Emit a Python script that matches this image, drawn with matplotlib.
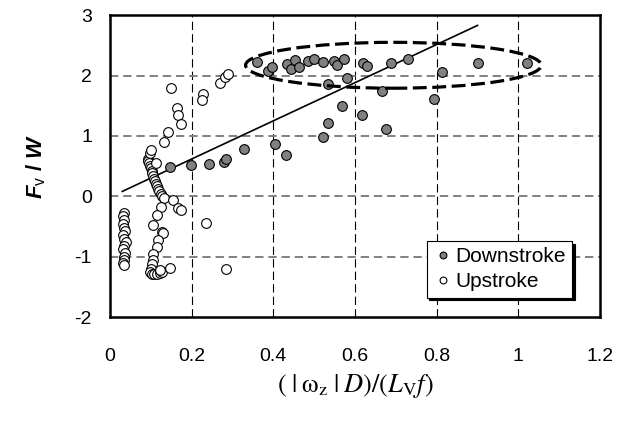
import numpy as np
import matplotlib
matplotlib.use('Agg')
import matplotlib.pyplot as plt
from matplotlib.patches import Ellipse

plt.rcParams['font.family'] = ['Liberation Sans', 'DejaVu Sans']
plt.rcParams['lines.scale_dashes'] = False
plt.rcParams['axes.unicode_minus'] = False
plt.rcParams['mathtext.fontset'] = 'custom'
plt.rcParams['mathtext.it'] = 'Liberation Sans:bold:italic'
plt.rcParams['mathtext.rm'] = 'Liberation Sans'

# downstroke points (filled grey)
down_x = [0.147, 0.198, 0.242, 0.279, 0.284, 0.329, 0.404, 0.431, 0.521, 0.535,
          0.567, 0.580, 0.534, 0.359, 0.388, 0.396, 0.434, 0.443, 0.453, 0.463,
          0.484, 0.500, 0.521, 0.549, 0.555, 0.574, 0.620, 0.629, 0.687, 0.731,
          0.665, 0.618, 0.675, 0.814, 0.794, 0.900, 1.022]
down_y = [0.49, 0.51, 0.54, 0.56, 0.62, 0.78, 0.86, 0.69, 0.98, 1.22,
          1.49, 1.96, 1.86, 2.23, 2.08, 2.14, 2.19, 2.10, 2.25, 2.14,
          2.24, 2.27, 2.23, 2.24, 2.18, 2.27, 2.20, 2.16, 2.20, 2.27,
          1.74, 1.34, 1.11, 2.06, 1.61, 2.20, 2.20]

# upstroke points (open)
up_x = [0.034, 0.033, 0.035, 0.032, 0.034, 0.036, 0.033, 0.035, 0.038, 0.034,
        0.033, 0.036, 0.034, 0.035, 0.033, 0.034,
        0.092, 0.093, 0.095, 0.097, 0.100, 0.102, 0.104, 0.106, 0.108, 0.110,
        0.112, 0.114, 0.117, 0.120, 0.124, 0.128, 0.132, 0.098, 0.100, 0.113,
        0.155, 0.167, 0.175, 0.124, 0.114, 0.105, 0.127, 0.131,
        0.118, 0.114, 0.106, 0.106, 0.104, 0.100, 0.098, 0.102, 0.108, 0.115,
        0.122, 0.128, 0.122, 0.147, 0.235, 0.283,
        0.132, 0.143, 0.149, 0.165, 0.167, 0.173, 0.227, 0.226, 0.269, 0.282, 0.288]
up_y = [-0.27, -0.33, -0.40, -0.46, -0.52, -0.58, -0.64, -0.70, -0.76, -0.82,
        -0.88, -0.94, -1.00, -1.05, -1.10, -1.14,
        0.62, 0.58, 0.55, 0.50, 0.46, 0.42, 0.38, 0.33, 0.29, 0.25,
        0.21, 0.17, 0.12, 0.08, 0.04, 0.00, -0.03, 0.72, 0.76, 0.55,
        -0.06, -0.20, -0.23, -0.17, -0.31, -0.48, -0.59, -0.61,
        -0.72, -0.84, -0.95, -1.06, -1.12, -1.20, -1.25, -1.28, -1.29, -1.28,
        -1.27, -1.26, -1.22, -1.19, -0.44, -1.21,
        0.90, 1.06, 1.79, 1.47, 1.34, 1.20, 1.69, 1.59, 1.88, 1.97, 2.02]

# trend line end points
fit_x = [0.03, 0.90]
fit_y = [0.08, 2.83]

xticks = [0, 0.2, 0.4, 0.6, 0.8, 1.0, 1.2]
xtick_labels = ['0', '0.2', '0.4', '0.6', '0.8', '1', '1.2']
yticks = [-2, -1, 0, 1, 2, 3]

fig = plt.figure(figsize=(6.26, 4.21), dpi=100)
ax = fig.add_axes([0.1757, 0.247, 0.7828, 0.717])

ax.set_xlim(0, 1.2)
ax.set_ylim(-2, 3)

for xv in xticks[1:-1]:
    ax.axvline(xv, color='k', lw=0.8, ls=(0, (6, 3)), zorder=1)
for yv in yticks[1:-1]:
    ax.axhline(yv, color='#808080', lw=1.4, ls=(0, (6, 3.5)), zorder=1)

ax.plot(fit_x, fit_y, color='k', lw=1.2, zorder=2)

ax.plot(down_x, down_y, 'o', ms=7, mfc='#808080', mec='k', mew=0.8,
        label='Downstroke', zorder=3)
ax.plot(up_x, up_y, 'o', ms=7, mfc='white', mec='k', mew=0.8,
        label='Upstroke', zorder=3)

ell = Ellipse((0.694, 2.17), 0.724, 0.76, fill=False, ec='k', lw=2.3,
              ls=(0, (10, 4)), zorder=4)
ax.add_patch(ell)

ax.set_xticks(xticks)
ax.set_xticklabels(xtick_labels)
ax.set_yticks(yticks)
ax.tick_params(axis='both', length=0, labelsize=14)
ax.tick_params(axis='x', pad=22)
ax.tick_params(axis='y', pad=13)

for sp in ax.spines.values():
    sp.set_linewidth(1.8)

ax.set_ylabel(r'$\it{F}_{\rm v}$ / $\it{W}$', fontsize=16, fontweight='bold',
              labelpad=19)
ax.set_xlabel(r'$(\;|\;\mathrm{\omega_z}\;|\;D)/(L_\mathrm{V}f)$',
              fontsize=19, math_fontfamily='stix', labelpad=5)

leg = ax.legend(loc='lower right', bbox_to_anchor=(0.965, 0.03), fontsize=15,
                frameon=True, fancybox=False, shadow={'color': 'k', 'alpha': 1},
                handletextpad=0.1, handlelength=1.0, markerscale=0.7,
                borderpad=0.3, labelspacing=0.3, framealpha=1)
leg.get_frame().set_edgecolor('k')
leg.get_frame().set_linewidth(0.8)

fig.savefig('out.png', dpi=100)
